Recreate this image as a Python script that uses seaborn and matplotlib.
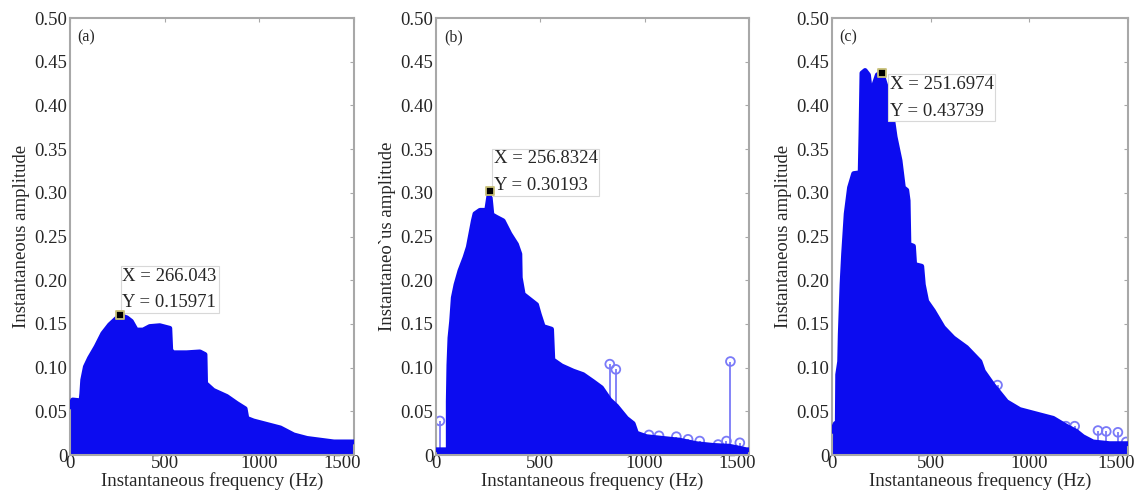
import matplotlib

matplotlib.use("agg")

import matplotlib.pyplot as plt
import matplotlib.transforms as mtransforms
import seaborn as sns

# ---------------------------------------------------------------------
# data (Hz, amplitude)
# ---------------------------------------------------------------------
# panel (a): outer envelope of the stem cloud
a_freq = [0, 14, 58, 62, 67, 81, 103, 138, 173, 209, 244, 266, 300, 324, 350,
          386, 421, 474, 527, 532, 545, 616, 686, 713, 716, 757, 828, 881,
          925, 934, 969, 1040, 1111, 1182, 1252, 1323, 1394, 1500]
a_amp = [0.055, 0.063, 0.062, 0.07, 0.086, 0.101, 0.111, 0.124, 0.139, 0.149,
         0.156, 0.1597, 0.157, 0.153, 0.143, 0.143, 0.147, 0.148, 0.145, 0.12,
         0.117, 0.117, 0.118, 0.115, 0.082, 0.074, 0.067, 0.059, 0.053, 0.042,
         0.039, 0.035, 0.031, 0.023, 0.019, 0.017, 0.015, 0.015]
a_stem_freq = []
a_stem_amp = []

# panel (b)
b_freq = [0, 59, 59, 62, 67, 75, 83, 96, 115, 139, 155, 179, 187, 211, 243,
          257, 268, 290, 322, 354, 386, 402, 404, 418, 450, 482, 495, 514,
          554, 560, 602, 658, 705, 753, 793, 833, 865, 913, 945, 961, 1009,
          1088, 1168, 1248, 1328, 1408, 1488, 1500]
b_amp = [0.006, 0.006, 0.061, 0.103, 0.134, 0.153, 0.18, 0.195, 0.211, 0.226,
         0.238, 0.268, 0.276, 0.28, 0.28, 0.3019, 0.275, 0.272, 0.268, 0.253,
         0.241, 0.23, 0.203, 0.184, 0.178, 0.172, 0.161, 0.147, 0.144, 0.109,
         0.102, 0.096, 0.092, 0.084, 0.077, 0.063, 0.056, 0.042, 0.036, 0.025,
         0.021, 0.019, 0.017, 0.013, 0.011, 0.01, 0.006, 0.006]
b_stem_freq = [19, 833, 862, 1411, 1021, 1069, 1152, 1208, 1264, 1352, 1392, 1456]
b_stem_amp = [0.039, 0.104, 0.098, 0.107, 0.023, 0.022, 0.021, 0.018, 0.016,
              0.012, 0.016, 0.014]

# panel (c)
c_freq = [0, 17, 27, 29, 39, 42, 51, 59, 72, 89, 110, 143, 147, 152, 168, 185,
          200, 215, 230, 252, 275, 303, 320, 345, 362, 379, 386, 390, 413, 419,
          455, 463, 480, 514, 564, 615, 682, 750, 767, 817, 885, 952, 1053,
          1121, 1188, 1239, 1272, 1323, 1407, 1500]
c_amp = [0.027, 0.036, 0.035, 0.092, 0.107, 0.138, 0.195, 0.23, 0.276, 0.306,
         0.322, 0.323, 0.368, 0.437, 0.44, 0.435, 0.406, 0.425, 0.435, 0.4374,
         0.421, 0.391, 0.364, 0.337, 0.306, 0.303, 0.291, 0.241, 0.239, 0.218,
         0.216, 0.195, 0.176, 0.165, 0.146, 0.134, 0.123, 0.107, 0.096, 0.08,
         0.061, 0.052, 0.046, 0.042, 0.033, 0.027, 0.021, 0.015, 0.013, 0.013]
c_stem_freq = [839, 1185, 1230, 1348, 1390, 1449, 1491]
c_stem_amp = [0.08, 0.033, 0.033, 0.028, 0.027, 0.026, 0.015]

# data tips
peak_x = [266.043, 256.8324, 251.6974]
peak_y = [0.15971, 0.30193, 0.43739]
peak_text = ["X = 266.043\nY = 0.15971",
             "X = 256.8324\nY = 0.30193",
             "X = 251.6974\nY = 0.43739"]

panel_tags = ["(a)", "(b)", "(c)"]
y_labels = ["Instantaneous amplitude", "Instantaneo`us amplitude",
            "Instantaneous amplitude"]
x_label = "Instantaneous frequency (Hz)"
y_ticks = [0, 0.05, 0.10, 0.15, 0.20, 0.25, 0.30, 0.35, 0.40, 0.45, 0.50]
y_tick_labels = ["0", "0.05", "0.10", "0.15", "0.20", "0.25", "0.30", "0.35",
                 "0.40", "0.45", "0.50"]
x_ticks = [0, 500, 1000, 1500]
x_tick_labels = ["0", "500", "1000", "1500"]

# ---------------------------------------------------------------------
sns.set_theme(style="white")
plt.rcParams["font.family"] = ["Liberation Serif", "DejaVu Serif"]

BLUE = "#0c0cf0"
LIGHT = "#7a7af8"
FRAME = "#a8a8a8"

fig = plt.figure(figsize=(11.35, 4.94), dpi=100)
# axes boxes in figure fractions (left, bottom, width, height)
boxes = [(0.0617, 0.0789, 0.2502, 0.8846),
         (0.3841, 0.0789, 0.2758, 0.8846),
         (0.7330, 0.0789, 0.2608, 0.8846)]
# data-tip offsets in pixels and alignment
tip_offsets = [((2, 4), "bottom"), ((4, -3), "bottom"), ((8, -3), "top")]

envelopes = [(a_freq, a_amp, a_stem_freq, a_stem_amp),
             (b_freq, b_amp, b_stem_freq, b_stem_amp),
             (c_freq, c_amp, c_stem_freq, c_stem_amp)]

for i, (fq, am, sf, sa) in enumerate(envelopes):
    ax = fig.add_axes(boxes[i])

    # dense stem cloud -> filled envelope with a thick rounded edge
    ax.fill_between(fq, 0, am, color=BLUE, linewidth=0, zorder=2)
    sns.lineplot(x=fq, y=am, ax=ax, color=BLUE, linewidth=3.5, sort=False,
                 estimator=None, zorder=3, legend=False,
                 solid_joinstyle="round", solid_capstyle="round")

    # isolated stems
    if sf:
        ax.vlines(sf, 0, sa, color=LIGHT, linewidth=1.3, zorder=1)
        sns.scatterplot(x=sf, y=sa, ax=ax, marker="o", s=40,
                        facecolor="none", edgecolor=LIGHT, linewidth=1.3,
                        zorder=1, legend=False)

    # data tip
    off, va = tip_offsets[i]
    ax.annotate(peak_text[i], xy=(peak_x[i], peak_y[i]), xytext=off,
                textcoords="offset pixels", ha="left", va=va, fontsize=13.5,
                linespacing=1.75, zorder=6,
                bbox=dict(boxstyle="square,pad=0.1", fc="white",
                          ec="#d8d8d8", lw=0.8))
    sns.scatterplot(x=[peak_x[i]], y=[peak_y[i]], ax=ax, marker="s", s=34,
                    color="black", edgecolor="#c8c078", linewidth=1.3,
                    zorder=7, legend=False)

    ax.text(0.025, 0.975, panel_tags[i], transform=ax.transAxes, ha="left",
            va="top", fontsize=11.5)

    ax.set_xlim(0, 1500)
    ax.set_ylim(0, 0.5)
    ax.set_xticks(x_ticks)
    ax.set_xticklabels(x_tick_labels)
    ax.set_yticks(y_ticks)
    ax.set_yticklabels(y_tick_labels)
    ax.tick_params(direction="in", length=3, width=0.8, color=FRAME,
                   labelsize=13.5, top=True, right=True, pad=2)
    ax.tick_params(axis="x", pad=0)
    # the last x label sits a little inside the right edge, as in the source
    last = ax.get_xticklabels()[-1]
    last.set_transform(last.get_transform() + mtransforms.ScaledTranslation(
        -12 / 100, 0, fig.dpi_scale_trans))
    ax.set_xlabel(x_label, fontsize=13.5, labelpad=0)
    ax.set_ylabel(y_labels[i], fontsize=13.5, labelpad=3)
    for sp in ax.spines.values():
        sp.set_color(FRAME)
        sp.set_linewidth(1.5)

plt.savefig("out.png", dpi=100)
